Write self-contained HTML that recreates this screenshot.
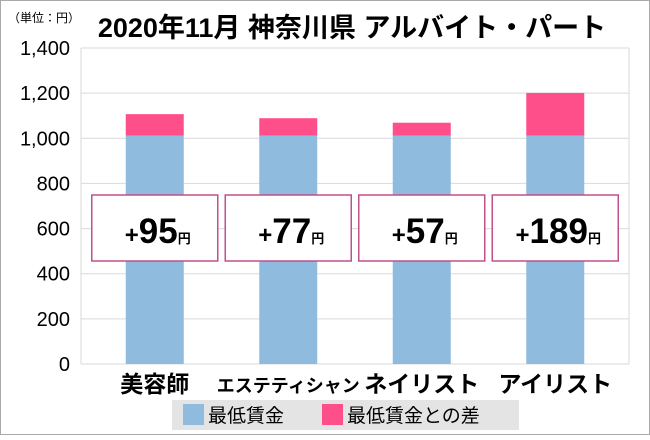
<!DOCTYPE html>
<html><head><meta charset="utf-8"><style>
body{margin:0;background:#fff}
svg text{font-family:"Liberation Sans","Noto Sans CJK JP",sans-serif}
</style></head><body>
<svg id="c" width="650" height="435">
<rect x="0.5" y="0.5" width="649" height="434" fill="#fff" stroke="#aaa"/>
<text x="8" y="22" font-size="12">（単位：円）</text>
<text x="352" y="37" font-size="27" font-weight="bold" text-anchor="middle">2020年11月 神奈川県 アルバイト・パート</text>
<g id="grid"></g><g id="bars"></g><g id="labels"></g>
<g>
<rect x="172" y="400" width="347" height="30" fill="#e4e4e4"/>
<rect x="183" y="404" width="21" height="21" fill="#8fbbde"/>
<text x="208" y="422" font-size="19">最低賃金</text>
<rect x="322" y="404" width="21" height="21" fill="#ff4f8b"/>
<text x="347" y="422" font-size="19">最低賃金との差</text>
</g>
</svg>
<script>
const categories=["美容師","エステティシャン","ネイリスト","アイリスト"];
const baseValues=[1012,1012,1012,1012];
const diffValues=[95,77,57,189];
const ticks=[0,200,400,600,800,1000,1200,1400];
const tickLabels=["0","200","400","600","800","1,000","1,200","1,400"];
const NS="http://www.w3.org/2000/svg";
const y0=364,y1=48,vmax=1400;
const y=v=>y0-(v/vmax)*(y0-y1);
const bandL=88,band=133.5;
const xc=i=>bandL+band*(i+0.5);
function mk(tag,at,parent,txt){const e=document.createElementNS(NS,tag);for(const k in at)e.setAttribute(k,at[k]);if(txt!=null)e.textContent=txt;document.getElementById(parent).appendChild(e);return e;}
ticks.forEach((t,i)=>{
 const l=mk('line',{x1:81,x2:629,y1:y(t),y2:y(t),stroke:'#d9d9d9','stroke-width':1},'grid');
 
 
 const tx=mk('text',{x:70,y:y(t)+7,'font-size':20,'text-anchor':'end'},'grid',tickLabels[i]);
 
 
});
const ax=mk('line',{x1:81,x2:81,y1:y1,y2:y0,stroke:'#d9d9d9'},'grid');


const ax2=mk('line',{x1:629,x2:629,y1:y1,y2:y0,stroke:'#d9d9d9'},'grid');


categories.forEach((c,i)=>{
 const w=58,x=xc(i)-w/2;
 const b=mk('rect',{x:x,y:y(baseValues[i]),width:w,height:y0-y(baseValues[i]),fill:'#8fbbde'},'bars');
 
 
 const d=mk('rect',{x:x,y:y(baseValues[i]+diffValues[i]),width:w,height:y(baseValues[i])-y(baseValues[i]+diffValues[i]),fill:'#ff4f8b'},'bars');
 
 
 const bx=mk('rect',{x:xc(i)-63,y:195,width:126,height:66,fill:'#fff',stroke:'#c0508a','stroke-width':1.5},'labels');
 
 
 const t=mk('text',{x:xc(i)+3,y:243,'font-size':35,'font-weight':'bold','text-anchor':'middle'},'labels');
 
 
 const s1=document.createElementNS(NS,'tspan');s1.setAttribute('font-size','24');s1.textContent='+';t.appendChild(s1);
 const s2=document.createElementNS(NS,'tspan');s2.textContent=diffValues[i];t.appendChild(s2);
 const s3=document.createElementNS(NS,'tspan');s3.setAttribute('font-size','13');s3.textContent='円';t.appendChild(s3);
 const cl=mk('text',{x:xc(i),y:392,'font-size':i==1?18:23,'font-weight':'bold','text-anchor':'middle'},'labels',c);
 
 
});
</script>
</body></html>
